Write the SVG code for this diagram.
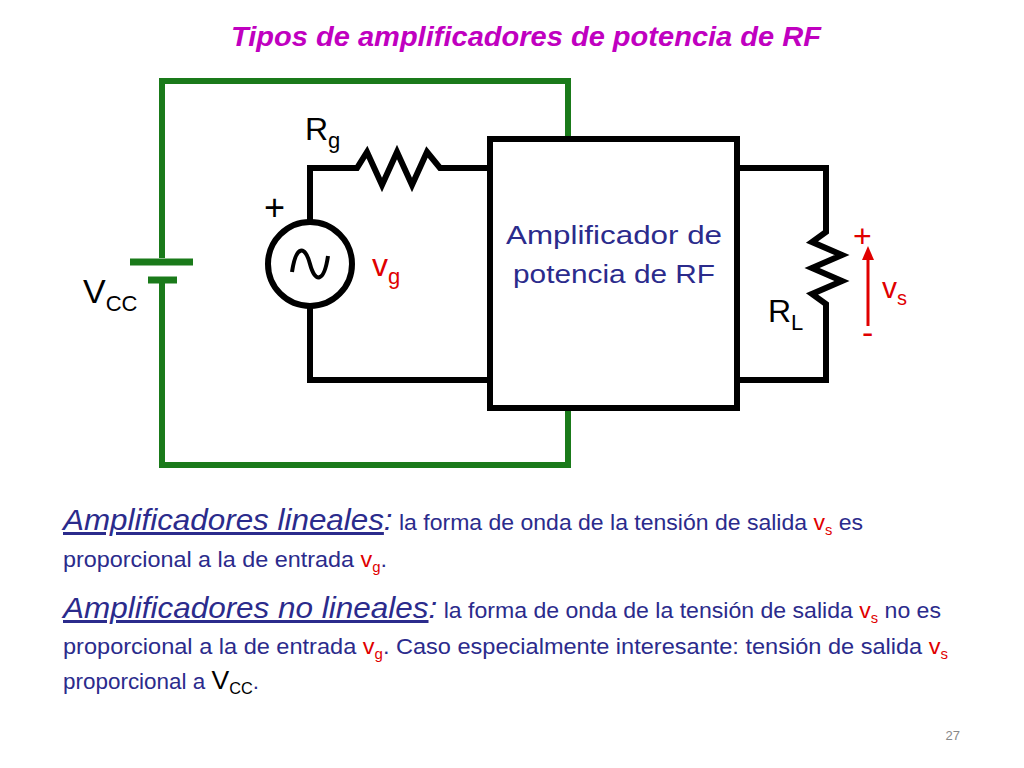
<svg xmlns="http://www.w3.org/2000/svg" width="1024" height="768" viewBox="0 0 1024 768">
<style>
text{font-family:"Liberation Sans",Arial,sans-serif}
.w{fill:none;stroke:#000;stroke-width:6;stroke-linejoin:miter}
.g{fill:none;stroke:#1a7a1a;stroke-width:6}
.r{fill:#e00000}
.b{fill:#2b2b8c}
</style>
<rect width="1024" height="768" fill="#fff"/>
<text x="526" y="46" text-anchor="middle" font-size="28" font-weight="bold" font-style="italic" fill="#c000c0" textLength="590" lengthAdjust="spacingAndGlyphs">Tipos de amplificadores de potencia de RF</text>
<g id="connectors">
<path class="g" d="M568,139 V81 H162 V258 M162,282 V465 H568 V408"/>
<path class="w" d="M310,222 V168 H357 L367,152 L382,185 L397,152 L412,185 L427,152 L440,168 H490"/>
<path class="w" d="M310,306 V380 H490"/>
<path class="w" d="M737,168 H826 V232 L812,242 L842,255 L812,268 L842,281 L812,294 L826,304 V380 H737"/>
</g>
<g id="vcc">
<line x1="130" y1="262" x2="193" y2="262" stroke="#1a7a1a" stroke-width="7"/>
<line x1="148" y1="280" x2="177" y2="280" stroke="#1a7a1a" stroke-width="7"/>
<text x="83" y="303" font-size="34">V<tspan font-size="22" dy="8">CC</tspan></text>
</g>
<g id="vg">
<circle cx="310" cy="264" r="42" fill="#fff" stroke="#000" stroke-width="6"/>
<path d="M292,272 C296,245 305,245 310,264 S324,283 328,256" fill="none" stroke="#000" stroke-width="4"/>
<text x="264" y="220" font-size="36">+</text>
<text x="372" y="276" font-size="32" class="r">v<tspan font-size="22" dy="8">g</tspan></text>
</g>
<g id="rg"><text x="305" y="140" font-size="32">R<tspan font-size="22" dy="8">g</tspan></text></g>
<g id="amp">
<rect x="490" y="139" width="247" height="269" fill="#fff" stroke="#000" stroke-width="6"/>
<text x="614" y="244" font-size="26" text-anchor="middle" class="b" textLength="216" lengthAdjust="spacingAndGlyphs">Amplificador de</text>
<text x="614" y="283" font-size="26" text-anchor="middle" class="b" textLength="202" lengthAdjust="spacingAndGlyphs">potencia de RF</text>
</g>
<g id="rl"><text x="768" y="322" font-size="32">R<tspan font-size="22" dy="8">L</tspan></text></g>
<g id="vs">
<line x1="868" y1="326" x2="868" y2="258" stroke="#e00000" stroke-width="3"/>
<polygon points="868,246 862,260 874,260" fill="#e00000"/>
<text x="853" y="247" font-size="32" class="r">+</text>
<text x="862" y="344" font-size="34" class="r">-</text>
<text x="882" y="298" font-size="30" class="r">v<tspan font-size="20" dy="7">s</tspan></text>
</g>
<g id="body" font-size="22" class="b">
<text x="63" y="530" textLength="800" lengthAdjust="spacingAndGlyphs"><tspan font-size="30" font-style="italic" text-decoration="underline">Amplificadores lineales</tspan><tspan font-size="30" font-style="italic">:</tspan> la forma de onda de la tensión de salida <tspan class="r">v<tspan font-size="14" dy="5">s</tspan></tspan><tspan dy="-5"> es</tspan></text>
<text x="63" y="567" textLength="324" lengthAdjust="spacingAndGlyphs">proporcional a la de entrada <tspan class="r">v<tspan font-size="14" dy="5">g</tspan></tspan><tspan dy="-5">.</tspan></text>
<text x="63" y="618" textLength="878" lengthAdjust="spacingAndGlyphs"><tspan font-size="30" font-style="italic" text-decoration="underline">Amplificadores no lineales</tspan><tspan font-size="30" font-style="italic">:</tspan> la forma de onda de la tensión de salida <tspan class="r">v<tspan font-size="14" dy="5">s</tspan></tspan><tspan dy="-5"> no es</tspan></text>
<text x="63" y="654" textLength="885" lengthAdjust="spacingAndGlyphs">proporcional a la de entrada <tspan class="r">v<tspan font-size="14" dy="5">g</tspan></tspan><tspan dy="-5">. Caso especialmente interesante: tensión de salida </tspan><tspan class="r">v<tspan font-size="14" dy="5">s</tspan></tspan></text>
<text x="63" y="689" textLength="196" lengthAdjust="spacingAndGlyphs">proporcional a <tspan fill="#000" font-size="26">V<tspan font-size="16" dy="5">CC</tspan></tspan><tspan dy="-5">.</tspan></text>
</g>
<text x="960" y="740" font-size="13" fill="#888" text-anchor="end">27</text>
</svg>
